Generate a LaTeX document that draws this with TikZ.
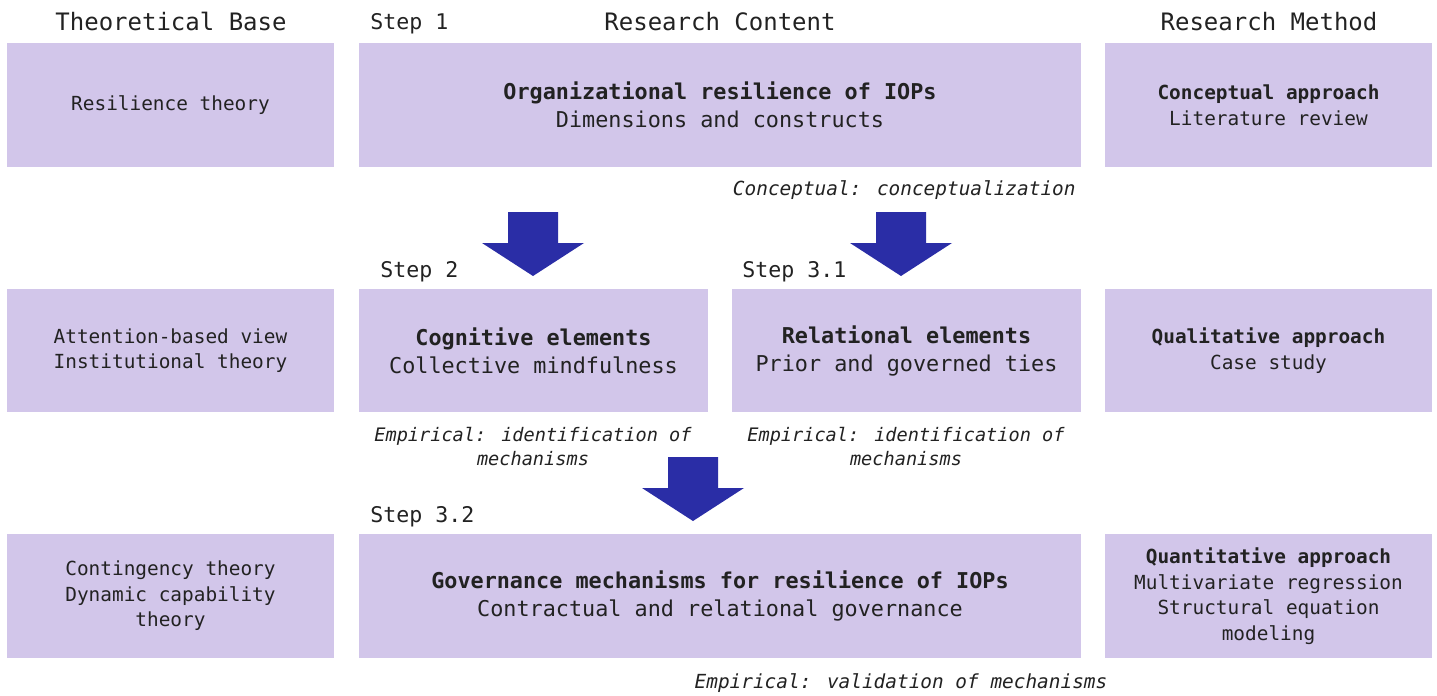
\documentclass[tikz,border=0pt]{standalone}
\usepackage{fontspec}
\setmainfont{DejaVu Sans Mono}
\usetikzlibrary{fit}
\definecolor{boxc}{RGB}{210,198,234}
\definecolor{arrowc}{RGB}{42,45,166}
\definecolor{txt}{RGB}{34,34,34}
\begin{document}
\begin{tikzpicture}[x=0.5pt,y=-0.5pt,
  box/.style={fill=boxc, draw=none, inner sep=0pt, align=center, text=txt},
  hdr/.style={font=\fontsize{12}{14}\selectfont, text=txt, anchor=base, inner sep=0pt},
  steplbl/.style={font=\fontsize{10.8}{13}\selectfont, anchor=base west, inner sep=0pt, text=txt},
  big/.style={font=\fontsize{10.9}{14}\selectfont},
  small/.style={font=\fontsize{9.7}{12.8}\selectfont},
  note/.style={font=\fontsize{9.7}{12}\selectfont\itshape, text=txt, align=center, inner sep=0pt},
  blockarrow/.pic={\fill[arrowc] (-25,0) -- (25,0) -- (25,31) -- (51,31) -- (0,64) -- (-51,31) -- (-25,31) -- cycle;}]
\useasboundingbox[fill=white] (0,0) rectangle (1437,696);

% headers
\node[hdr] (h1) at (171,31) {Theoretical Base};
\node[hdr] (h2) at (720,31) {Research Content};
\node[hdr] (h3) at (1269,31) {Research Method};
\node[steplbl] (s1) at (370,30) {Step 1};

% row 1
\node[box, small, fit={(7,43) (334,167)}] (t1) {};
\node[small, text=txt, align=center] at (t1.center) {Resilience theory};
\node[box, fit={(359,43) (1081,167)}] (c1) {};
\node[big, text=txt, align=center] at (c1.center) {\textbf{Organizational resilience of IOPs}\\Dimensions and constructs};
\node[box, fit={(1105,43) (1432,167)}] (m1) {};
\node[small, text=txt, align=center, font=\fontsize{9.7}{13}\selectfont] at (m1.center) {\textbf{Conceptual approach}\\Literature review};
\node[note, anchor=base east] (n1) at (1076,195) {Conceptual: conceptualization};

% arrows 1
\pic at (533,212) {blockarrow};
\pic at (901,212) {blockarrow};

% row 2
\node[steplbl] (s2) at (380,277) {Step 2};
\node[steplbl] (s31) at (742,277) {Step 3.1};
\node[box, fit={(7,289) (334,412)}] (t2) {};
\node[small, text=txt, align=center] at (t2.center) {Attention-based view\\Institutional theory};
\node[box, fit={(359,289) (708,412)}] (c2) {};
\node[big, text=txt, align=center] at (c2.center) {\textbf{Cognitive elements}\\Collective mindfulness};
\node[box, fit={(732,289) (1081,412)}] (c3) {};
\node[big, text=txt, align=center] at (c3.center) {\textbf{Relational elements}\\Prior and governed ties};
\node[box, fit={(1105,289) (1432,412)}] (m2) {};
\node[small, text=txt, align=center] at (m2.center) {\textbf{Qualitative approach}\\Case study};
\node[note, font=\fontsize{9.3}{12}\selectfont\itshape] (n2) at (533,447) {Empirical: identification of\\mechanisms};
\node[note, font=\fontsize{9.3}{12}\selectfont\itshape] (n3) at (906,447) {Empirical: identification of\\mechanisms};

% arrow 3
\pic at (693,457) {blockarrow};

% row 3
\node[steplbl] (s32) at (370,522) {Step 3.2};
\node[box, fit={(7,534) (334,658)}] (t3) {};
\node[small, text=txt, align=center] at (t3.center) {Contingency theory\\Dynamic capability\\theory};
\node[box, fit={(359,534) (1081,658)}] (c4) {};
\node[big, text=txt, align=center] at (c4.center) {\textbf{Governance mechanisms for resilience of IOPs}\\Contractual and relational governance};
\node[box, fit={(1105,534) (1432,658)}] (m3) {};
\node[small, text=txt, align=center] at (m3.center) {\textbf{Quantitative approach}\\Multivariate regression\\Structural equation\\modeling};
\node[note, anchor=base] (n4) at (901,688) {Empirical: validation of mechanisms};
\end{tikzpicture}
\end{document}
